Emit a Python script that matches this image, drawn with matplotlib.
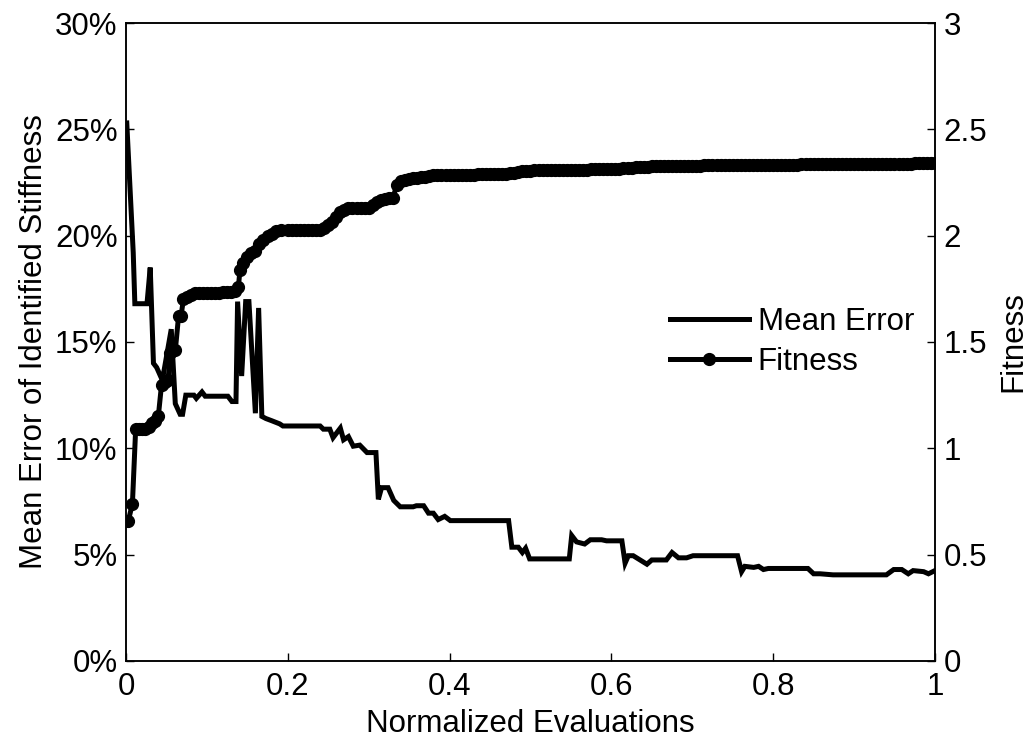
import matplotlib.pyplot as plt
from matplotlib.ticker import FuncFormatter

plt.rcParams["font.family"] = ["Liberation Sans", "DejaVu Sans"]

# mean error of identified stiffness (%), vertices
err_x = [0.001, 0.009, 0.011, 0.026, 0.030, 0.034, 0.038, 0.045, 0.056, 0.061,
         0.067, 0.070, 0.074, 0.084, 0.087, 0.094, 0.098, 0.126, 0.131, 0.136,
         0.138, 0.143, 0.148, 0.152, 0.160, 0.164, 0.168, 0.173, 0.180, 0.190,
         0.194, 0.240, 0.244, 0.252, 0.256, 0.265, 0.269, 0.275, 0.281, 0.289,
         0.298, 0.309, 0.312, 0.316, 0.324, 0.331, 0.339, 0.355, 0.359, 0.368,
         0.374, 0.380, 0.386, 0.394, 0.401, 0.473, 0.477, 0.485, 0.490, 0.494,
         0.499, 0.548, 0.551, 0.557, 0.567, 0.574, 0.588, 0.594, 0.613, 0.617,
         0.621, 0.627, 0.644, 0.650, 0.668, 0.675, 0.683, 0.693, 0.701, 0.756,
         0.761, 0.765, 0.776, 0.782, 0.788, 0.794, 0.843, 0.850, 0.858, 0.874,
         0.940, 0.949, 0.959, 0.967, 0.973, 0.986, 0.992, 1.000]
err_y = [25.3, 19.2, 16.8, 16.8, 18.5, 14.0, 13.8, 13.2, 15.6, 12.1,
         11.6, 11.6, 12.5, 12.5, 12.35, 12.65, 12.45, 12.45, 12.2, 12.2,
         16.9, 13.4, 16.9, 16.9, 11.65, 16.6, 11.5, 11.4, 11.3, 11.15,
         11.05, 11.05, 10.9, 10.9, 10.5, 10.95, 10.4, 10.55, 10.1, 10.15,
         9.8, 9.8, 7.6, 8.15, 8.15, 7.55, 7.25, 7.25, 7.3, 7.3,
         6.95, 6.95, 6.65, 6.8, 6.6, 6.6, 5.35, 5.35, 5.1, 5.3,
         4.8, 4.8, 5.9, 5.6, 5.5, 5.7, 5.7, 5.65, 5.65, 4.6,
         4.95, 4.95, 4.55, 4.75, 4.75, 5.1, 4.85, 4.85, 4.95, 4.95,
         4.2, 4.45, 4.4, 4.45, 4.3, 4.35, 4.35, 4.1, 4.1, 4.05,
         4.05, 4.3, 4.3, 4.1, 4.25, 4.2, 4.1, 4.25]

# fitness, read at the marker positions
fit_x = [0.003, 0.008, 0.012, 0.016, 0.020, 0.024, 0.028, 0.032, 0.036, 0.040,
         0.044, 0.048, 0.052, 0.055, 0.058, 0.061, 0.065, 0.068, 0.071, 0.075,
         0.080, 0.085, 0.090, 0.095, 0.100, 0.105, 0.110, 0.115, 0.120, 0.125,
         0.130, 0.135, 0.139, 0.141, 0.145, 0.150, 0.155, 0.160, 0.165, 0.170,
         0.175, 0.180, 0.186, 0.192, 0.200, 0.205, 0.210, 0.215, 0.220, 0.225,
         0.230, 0.235, 0.240, 0.245, 0.250, 0.255, 0.260, 0.265, 0.270, 0.275,
         0.280, 0.285, 0.290, 0.295, 0.300, 0.305, 0.310, 0.315, 0.320, 0.325,
         0.330, 0.335, 0.340, 0.345, 0.350, 0.355, 0.360, 0.365, 0.370, 0.375,
         0.380, 0.385, 0.390, 0.395, 0.400, 0.405, 0.410, 0.415, 0.420, 0.425,
         0.430, 0.435, 0.440, 0.445, 0.450, 0.455, 0.460, 0.465, 0.470, 0.475,
         0.480, 0.485, 0.490, 0.495, 0.500, 0.505, 0.510, 0.515, 0.520, 0.525,
         0.530, 0.535, 0.540, 0.545, 0.550, 0.555, 0.560, 0.565, 0.570, 0.575,
         0.580, 0.585, 0.590, 0.595, 0.600, 0.605, 0.610, 0.615, 0.620, 0.625,
         0.630, 0.635, 0.640, 0.645, 0.650, 0.655, 0.660, 0.665, 0.670, 0.675,
         0.680, 0.685, 0.690, 0.695, 0.700, 0.705, 0.710, 0.715, 0.720, 0.725,
         0.730, 0.735, 0.740, 0.745, 0.750, 0.755, 0.760, 0.765, 0.770, 0.775,
         0.780, 0.785, 0.790, 0.795, 0.800, 0.805, 0.810, 0.815, 0.820, 0.825,
         0.830, 0.835, 0.840, 0.845, 0.850, 0.855, 0.860, 0.865, 0.870, 0.875,
         0.880, 0.885, 0.890, 0.895, 0.900, 0.905, 0.910, 0.915, 0.920, 0.925,
         0.930, 0.935, 0.940, 0.945, 0.950, 0.955, 0.960, 0.965, 0.970, 0.975,
         0.980, 0.985, 0.990, 0.995, 1.000]
fit_y = [0.66, 0.74, 1.09, 1.09, 1.09, 1.09, 1.10, 1.12, 1.13, 1.15,
         1.30, 1.31, 1.32, 1.45, 1.46, 1.46, 1.62, 1.62, 1.70, 1.71,
         1.72, 1.73, 1.73, 1.73, 1.73, 1.73, 1.73, 1.73, 1.735, 1.735,
         1.735, 1.74, 1.76, 1.84, 1.87, 1.90, 1.92, 1.93, 1.96, 1.98,
         2.00, 2.01, 2.02, 2.025, 2.025, 2.025, 2.025, 2.025, 2.025, 2.025,
         2.025, 2.025, 2.025, 2.035, 2.05, 2.065, 2.09, 2.11, 2.12, 2.128,
         2.13, 2.13, 2.13, 2.13, 2.13, 2.145, 2.16, 2.17, 2.172, 2.175,
         2.178, 2.24, 2.255, 2.262, 2.266, 2.27, 2.272, 2.275, 2.278, 2.28,
         2.283, 2.285, 2.285, 2.285, 2.285, 2.285, 2.285, 2.286, 2.286, 2.287,
         2.287, 2.288, 2.288, 2.289, 2.289, 2.29, 2.29, 2.291, 2.292, 2.293,
         2.295, 2.298, 2.302, 2.305, 2.306, 2.307, 2.307, 2.308, 2.308, 2.309,
         2.309, 2.31, 2.31, 2.31, 2.31, 2.311, 2.311, 2.311, 2.311, 2.312,
         2.312, 2.312, 2.312, 2.313, 2.313, 2.314, 2.314, 2.316, 2.318, 2.32,
         2.322, 2.324, 2.325, 2.325, 2.326, 2.326, 2.327, 2.327, 2.327, 2.327,
         2.328, 2.328, 2.328, 2.328, 2.329, 2.329, 2.329, 2.33, 2.33, 2.33,
         2.33, 2.331, 2.331, 2.331, 2.331, 2.332, 2.332, 2.332, 2.332, 2.333,
         2.333, 2.333, 2.333, 2.333, 2.333, 2.334, 2.334, 2.334, 2.334, 2.334,
         2.334, 2.335, 2.335, 2.335, 2.335, 2.335, 2.336, 2.336, 2.336, 2.336,
         2.336, 2.336, 2.337, 2.337, 2.337, 2.337, 2.337, 2.337, 2.338, 2.338,
         2.338, 2.338, 2.338, 2.339, 2.339, 2.339, 2.339, 2.339, 2.339, 2.34,
         2.34, 2.34, 2.34, 2.34, 2.34]

fig = plt.figure(figsize=(10.29, 7.42), dpi=100)
ax1 = fig.add_axes([0.1224, 0.1092, 0.7862, 0.8598])
ax2 = ax1.twinx()

l1, = ax1.plot(err_x, err_y, color="black", lw=3.6, solid_joinstyle="miter")
l2, = ax2.plot(fit_x, fit_y, color="black", lw=3.6, marker="o", ms=8.5)

ax1.set_xlim(0, 1)
ax1.set_ylim(0, 30)
ax2.set_ylim(0, 3)
ax1.set_xticks([0, 0.2, 0.4, 0.6, 0.8, 1])
ax1.set_xticklabels(["0", "0.2", "0.4", "0.6", "0.8", "1"])
ax1.set_yticks(range(0, 31, 5))
ax1.yaxis.set_major_formatter(FuncFormatter(lambda v, p: "%d%%" % v))
ax2.set_yticks([0, 0.5, 1, 1.5, 2, 2.5, 3])
ax2.set_yticklabels(["0", "0.5", "1", "1.5", "2", "2.5", "3"])

for ax in (ax1, ax2):
    ax.tick_params(direction="in", length=6, width=1, labelsize=22.5, pad=6)
    for s in ax.spines.values():
        s.set_linewidth(1.1)
ax1.tick_params(axis="x", pad=8)

ax1.set_xlabel("Normalized Evaluations", fontsize=22.5, labelpad=5)
ax1.set_ylabel("Mean Error of Identified Stiffness", fontsize=22.5, labelpad=4)
ax2.set_ylabel("Fitness", fontsize=22.5, rotation=90, labelpad=8)

ax2.legend([l1, l2], ["Mean Error", "Fitness"], loc="center left",
           bbox_to_anchor=(0.672, 0.5), frameon=False, fontsize=22.5,
           handlelength=2.53, handletextpad=0.29, labelspacing=0.31,
           borderpad=0, borderaxespad=0)

fig.savefig("out.png", dpi=100)
